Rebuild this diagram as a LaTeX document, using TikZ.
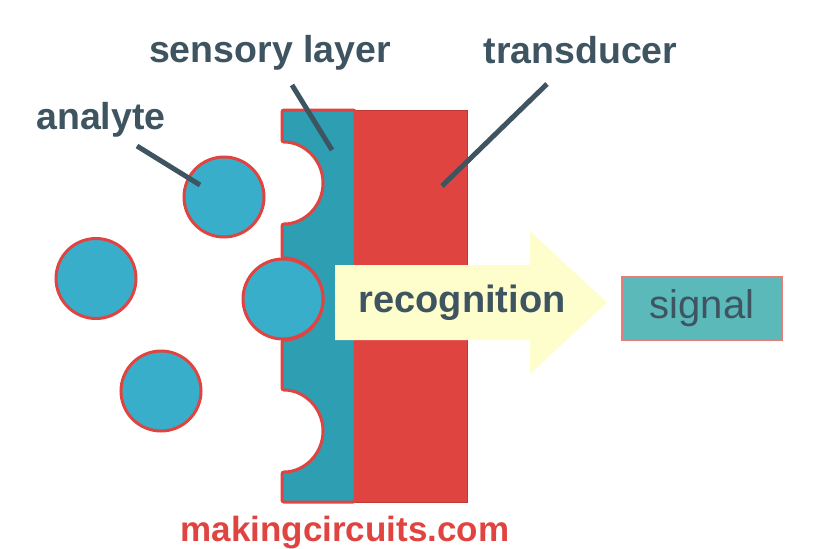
\documentclass[tikz,border=0pt]{standalone}
\usepackage{fontspec}
\setmainfont{Liberation Sans}
\usepackage{tikz}

\definecolor{labelgray}{RGB}{62,84,97}
\definecolor{cellred}{RGB}{224,68,64}
\definecolor{layerteal}{RGB}{46,158,178}
\definecolor{analyteblue}{RGB}{56,174,202}
\definecolor{signalteal}{RGB}{91,185,186}
\definecolor{arrowyellow}{RGB}{254,253,204}

\begin{document}
\begin{tikzpicture}[x=1pt, y=-1pt,
  labeltext/.style={text=labelgray, font=\bfseries\fontsize{37.5}{40}\selectfont, inner sep=0pt, anchor=base},
  leader/.style={draw=labelgray, line width=5pt},
  analyte/.style={circle, fill=analyteblue, draw=cellred, line width=3pt, minimum size=80pt, inner sep=0pt}]

\useasboundingbox (0,0) rectangle (828,549);

% transducer
\draw[cellred!85!black, fill=cellred, line width=1pt] (355,110) rectangle (467,502);

% sensory layer with notches
\draw[cellred, fill=layerteal, line width=3pt, rounded corners=2pt]
  (282,110) -- (355,110) -- (355,502) -- (282,502) -- (282,472)
  arc[start angle=90, end angle=-90, radius=41] -- (282,340)
  arc[start angle=90, end angle=-90, radius=41] -- (282,224)
  arc[start angle=90, end angle=-90, radius=41] -- cycle;

% recognition arrow
\fill[arrowyellow] (335,265) -- (530,265) -- (530,231) -- (607,302.5)
  -- (530,374) -- (530,340) -- (335,340) -- cycle;
\node[labeltext, font=\bfseries\fontsize{38}{40}\selectfont] (recognition) at (462,312) {recognition};

% analyte circles
\node[analyte] (a1) at (224,197) {};
\node[analyte] (a2) at (96,278.5) {};
\node[analyte] (a3) at (161,391) {};
\node[analyte] (a4) at (283,299) {};

% signal box
\node[draw=cellred!70!white, fill=signalteal, line width=1.5pt, minimum width=160pt, minimum height=63pt,
  inner sep=0pt, text=labelgray, font=\fontsize{40}{42}\selectfont] (signal) at (702,308.5) {signal};

% labels
\node[labeltext] (analyte label) at (101,129) {analyte};
\node[labeltext] (sensory label) at (270,62) {sensory layer};
\node[labeltext] (transducer label) at (580.5,63) {transducer};

% leader lines
\coordinate (analyte from) at (137,146);
\coordinate (analyte to) at (200,185);
\coordinate (sensory from) at (292,85);
\coordinate (sensory to) at (332,150);
\coordinate (transducer from) at (547,84);
\coordinate (transducer to) at (442,186);
\draw[leader] (analyte from) -- (analyte to);
\draw[leader] (sensory from) -- (sensory to);
\draw[leader] (transducer from) -- (transducer to);

% watermark
\node[text=cellred, font=\bfseries\fontsize{35}{37}\selectfont, inner sep=0pt, anchor=base] (site) at (345,541.5) {makingcircuits.com};

\end{tikzpicture}
\end{document}
